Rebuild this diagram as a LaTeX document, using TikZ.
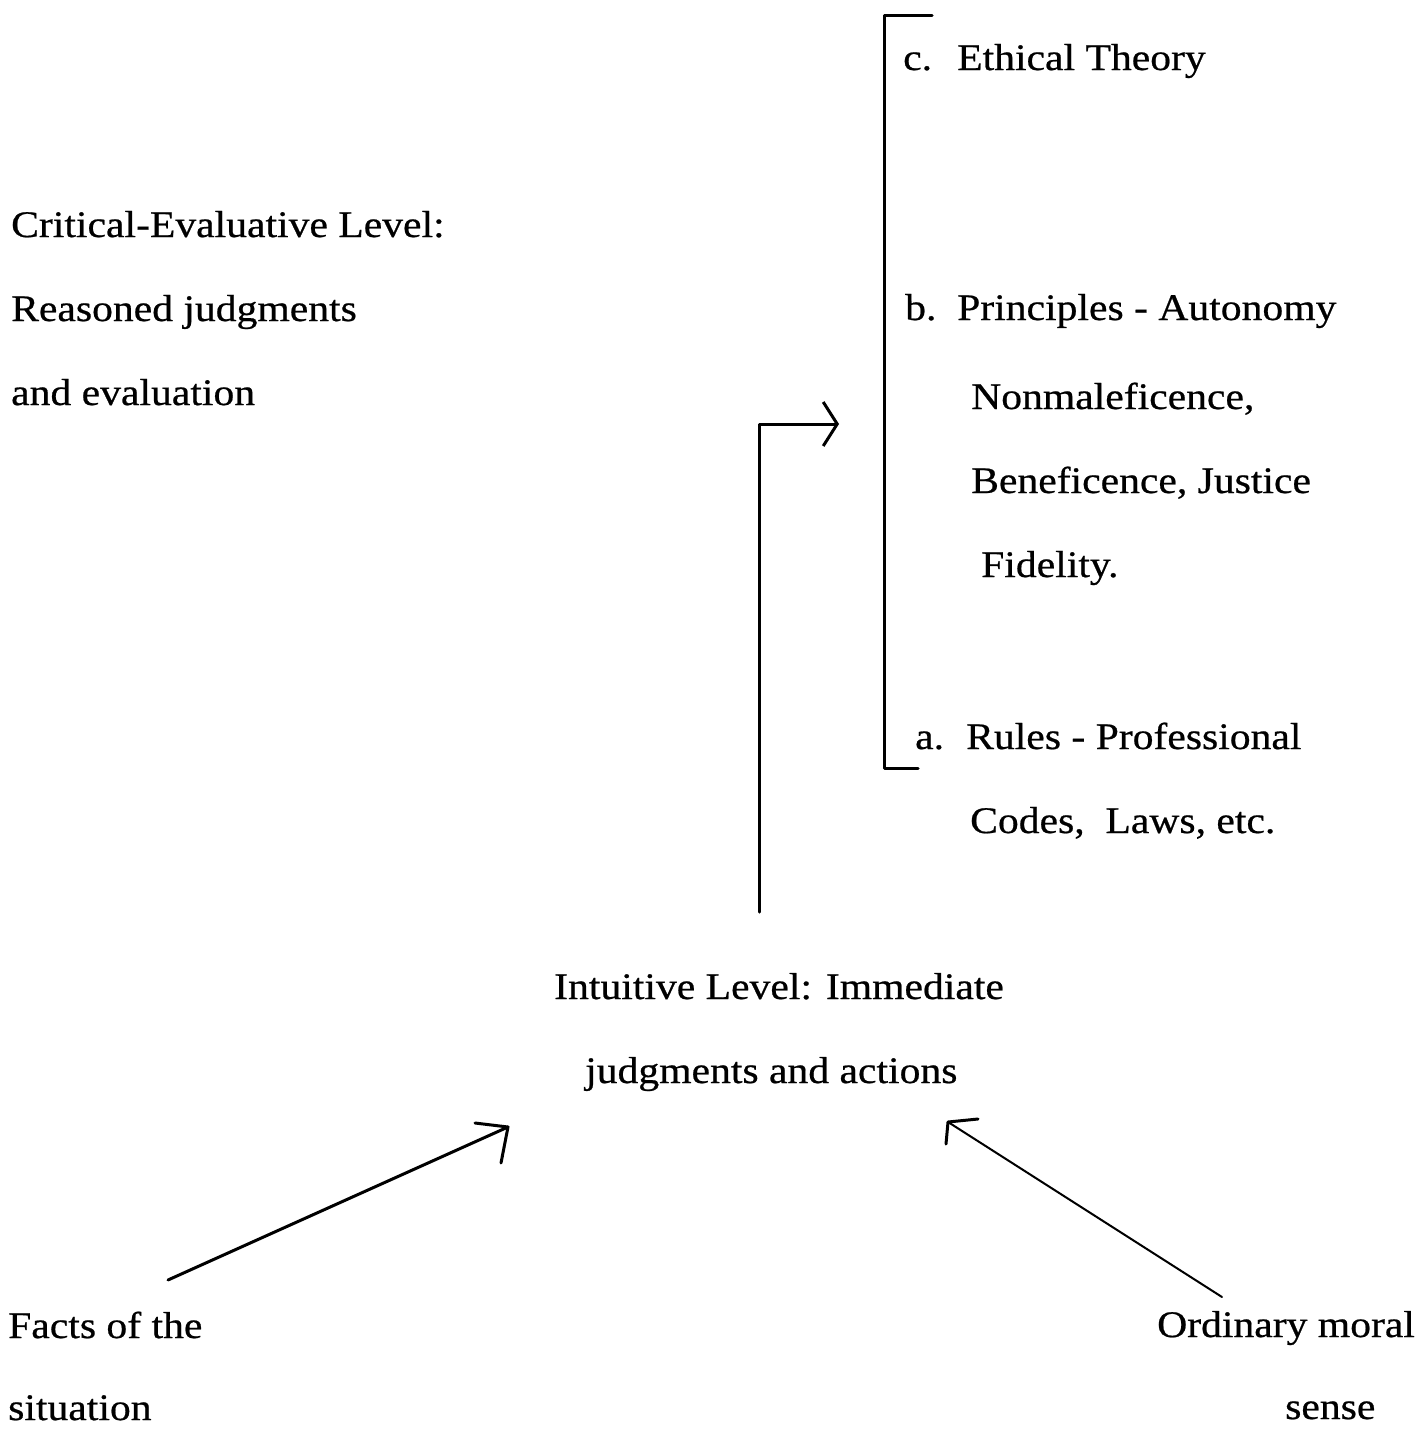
\documentclass[tikz,border=0pt]{standalone}
\usepackage{fontspec}
\setmainfont[FakeStretch=1.11,FakeBold=0.6]{Liberation Serif}
\usetikzlibrary{arrows.meta}
\begin{document}
\begin{tikzpicture}[x=1pt,y=-1pt,
  txt/.style={anchor=base west, inner sep=0pt, font=\fontsize{37.5}{44}\selectfont},
  ln/.style={line width=3pt, line cap=round, line join=round},
  thinln/.style={line width=2pt, line cap=round, line join=round}]
\useasboundingbox (0,0) rectangle (1426,1432);

% left block
\node[txt] (crit1) at (11,237) {Critical-Evaluative Level:};
\node[txt] (crit2) at (11,321) {Reasoned judgments};
\node[txt] (crit3) at (11,405) {and evaluation};

% right block
\node[txt] (c)  at (903,70)  {\makebox[54pt][l]{c.}Ethical Theory};
\node[txt] (b)  at (905,320) {\makebox[52pt][l]{b.}Principles - Autonomy};
\node[txt] (b2) at (971,409) {Nonmaleficence,};
\node[txt] (b3) at (971,493) {Beneficence, Justice};
\node[txt] (b4) at (981,577) {Fidelity.};
\node[txt] (a)  at (915,749) {\makebox[51pt][l]{a.}Rules - Professional};
\node[txt] (a2) at (970,833) {Codes,\ \ Laws, etc.};

% intuitive level
\node[txt] (int1) at (554,999)  {Intuitive Level: Immediate};
\node[txt] (int2) at (585,1083) {judgments and actions};

% bottom
\node[txt] (f1) at (8,1338) {Facts of the};
\node[txt] (f2) at (8,1420) {situation};
\node[txt] (o1) at (1157,1337) {Ordinary moral};
\node[txt] (o2) at (1285,1419) {sense};

% bracket
\coordinate (brtop) at (932,15);
\coordinate (brtl)  at (884,15);
\coordinate (brbl)  at (884,768);
\coordinate (brbot) at (918,768);
\draw[ln] (brtop) -- (brtl) -- (brbl) -- (brbot);

% L-shaped arrow from intuitive level up to the principles
\coordinate (ibot) at (759,912);
\coordinate (ptip) at (839,424);
\draw[ln, -{Straight Barb[length=14pt,width=44pt,line width=3pt]}] (ibot) |- (ptip);

% facts arrow
\coordinate (fstart) at (168,1280);
\coordinate (ftip) at (508,1127);
\coordinate (fa1) at (475,1123);
\coordinate (fa2) at (501,1163);
\draw[ln] (fstart) -- (ftip);
\draw[ln] (fa1) -- (ftip) -- (fa2);

% ordinary moral sense arrow
\coordinate (ostart) at (1222,1297);
\coordinate (otip) at (948,1122);
\coordinate (oa1) at (978,1119);
\coordinate (oa2) at (946,1144);
\draw[thinln] (ostart) -- (otip);
\draw[ln] (oa1) -- (otip) -- (oa2);
\end{tikzpicture}
\end{document}
